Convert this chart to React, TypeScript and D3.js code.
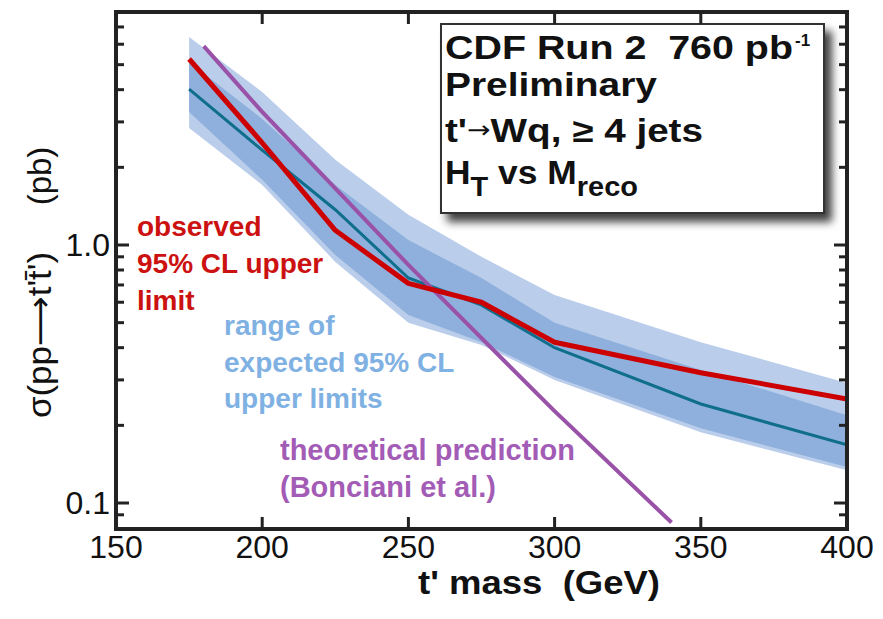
import React from "react";
import * as d3 from "d3";

// t' mass points (GeV) and cross-section limits (pb)
const masses = [175, 200, 225, 250, 275, 300, 350, 400];
const observed = [5.26, 2.49, 1.14, 0.71, 0.6, 0.42, 0.32, 0.253];
const expected = [4.02, 2.33, 1.37, 0.745, 0.585, 0.4, 0.242, 0.168];
const oneSigmaUp = [5.12, 3.08, 1.71, 1.045, 0.745, 0.5, 0.328, 0.219];
const oneSigmaDown = [3.28, 1.79, 0.915, 0.535, 0.42, 0.308, 0.195, 0.138];
const twoSigmaUp = [6.4, 3.92, 2.14, 1.31, 0.9, 0.64, 0.42, 0.292];
const twoSigmaDown = [2.84, 1.71, 0.86, 0.5, 0.41, 0.3, 0.188, 0.134];

// theoretical prediction (Bonciani et al.)
const theoryMasses = [180, 200, 250, 300, 340];
const theory = [5.9, 3.28, 0.837, 0.227, 0.084];

const xTicks = [150, 200, 250, 300, 350, 400];
const yLabels = [0.1, 1.0];

const W = 883;
const H = 619;
const left = 116;
const right = 847;
const top = 12;
const bottom = 529;

const FONT = "'Liberation Sans', Arial, Helvetica, sans-serif";
const ARROW_FONT = "'DejaVu Sans', sans-serif";

const App = () => {
  const x = d3.scaleLinear().domain([150, 400]).range([left, right]);
  const y = d3.scaleLog().domain([0.0793, 8.0]).range([bottom, top]);

  const band = (lo: number[], hi: number[]) =>
    d3
      .area<number>()
      .x((d, i) => x(masses[i]))
      .y0((d, i) => y(lo[i]))
      .y1((d, i) => y(hi[i]))(masses) || "";

  const line = (vals: number[], xs: number[]) =>
    d3
      .line<number>()
      .x((d, i) => x(xs[i]))
      .y((d) => y(d))(vals) || "";

  const yTicks = y.ticks().filter((t) => y(t) > top + 3 && y(t) < bottom - 3);
  const isMajor = (t: number) => Math.abs(Math.log10(t) - Math.round(Math.log10(t))) < 1e-6;

  return (
    <div style={{ position: "absolute", left: 0, top: 0 }}>
      <svg width={W} height={H} style={{ display: "block", background: "#fff" }}>
        <defs>
          <clipPath id="plot">
            <rect x={left} y={top} width={right - left} height={bottom - top} />
          </clipPath>
          <filter id="shadow" x="-10%" y="-10%" width="130%" height="140%">
            <feDropShadow dx="7" dy="8" stdDeviation="4" floodColor="#000" floodOpacity="0.75" />
          </filter>
        </defs>

        <g clipPath="url(#plot)">
          <path d={band(twoSigmaDown, twoSigmaUp)} fill="#bacdeb" />
          <path d={band(oneSigmaDown, oneSigmaUp)} fill="#8fb0dc" />
          <path d={line(expected, masses)} fill="none" stroke="#0f6e8c" strokeWidth={3} />
          <path d={line(theory, theoryMasses)} fill="none" stroke="#9a52a8" strokeWidth={4} />
          <path d={line(observed, masses)} fill="none" stroke="#cc0000" strokeWidth={5} strokeLinejoin="round" />
        </g>

        {/* annotations */}
        <g fontFamily={FONT} fontWeight="bold" fontSize={28}>
          <g fill="#cc1111">
            <text x={137} y={236}>observed</text>
            <text x={137} y={273}>95% CL upper</text>
            <text x={137} y={310}>limit</text>
          </g>
          <g fill="#7fb1e3">
            <text x={224} y={335}>range of</text>
            <text x={224} y={372}>expected 95% CL</text>
            <text x={224} y={408}>upper limits</text>
          </g>
          <g fill="#a35cb6" fontSize={29}>
            <text x={280} y={460}>theoretical prediction</text>
            <text x={280} y={497}>(Bonciani et al.)</text>
          </g>
        </g>

        {/* legend box */}
        <rect x={441} y={24} width={383} height={189} fill="#fff" stroke="#333" strokeWidth={2} filter="url(#shadow)" />
        <g fontFamily={FONT} fontWeight="bold" fill="#111" fontSize={33}>
          <text x={445} y={59} textLength={348} lengthAdjust="spacingAndGlyphs">{"CDF Run 2\u00a0\u00a0760 pb"}</text>
          <text x={795} y={46} fontSize={17}>-1</text>
          <text x={445} y={96} textLength={212} lengthAdjust="spacingAndGlyphs">Preliminary</text>
          <text x={445} y={142} textLength={258} lengthAdjust="spacingAndGlyphs">
            t'<tspan fontFamily={ARROW_FONT} fontWeight="normal" fontSize={24} dy={-4}>→</tspan>
            <tspan dy={4}>Wq, ≥ 4 jets</tspan>
          </text>
          <text x={445} y={184} textLength={193} lengthAdjust="spacingAndGlyphs">
            H<tspan fontSize={27} dy={12}>T</tspan>
            <tspan dy={-12}> vs M</tspan>
            <tspan fontSize={27} dy={12}>reco</tspan>
          </text>
        </g>

        {/* frame */}
        <rect x={left} y={top} width={right - left} height={bottom - top} fill="none" stroke="#222" strokeWidth={4} />
        <g stroke="#222" strokeWidth={3}>
          {xTicks.slice(1, -1).map((t) => (
            <g key={"x" + t}>
              <line x1={x(t)} x2={x(t)} y1={bottom} y2={bottom - 12} />
              <line x1={x(t)} x2={x(t)} y1={top} y2={top + 12} />
            </g>
          ))}
          {yTicks.map((t) => {
            const len = isMajor(t) ? 13 : 8;
            return (
              <g key={"y" + t}>
                <line x1={left} x2={left + len} y1={y(t)} y2={y(t)} />
                <line x1={right} x2={right - len} y1={y(t)} y2={y(t)} />
              </g>
            );
          })}
        </g>

        {/* tick labels */}
        <g fontFamily={FONT} fontSize={32} fill="#111">
          {xTicks.map((t) => (
            <text key={"xl" + t} x={x(t)} y={558} textAnchor="middle">
              {t}
            </text>
          ))}
          {yLabels.map((t) => (
            <text key={"yl" + t} x={110} y={y(t)} textAnchor="end" dominantBaseline="central">
              {t.toFixed(1)}
            </text>
          ))}
        </g>

        {/* axis titles */}
        <text x={539} y={594} textAnchor="middle" fontFamily={FONT} fontWeight="bold" fontSize={33} fill="#111" textLength={242} lengthAdjust="spacingAndGlyphs">
          {"t' mass\u00a0\u00a0(GeV)"}
        </text>
        <g fontFamily={FONT} fontSize={33} fill="#111">
          <text transform="translate(51,335) rotate(-90)" textAnchor="middle" textLength={166} lengthAdjust="spacingAndGlyphs">
            σ(pp<tspan fontFamily={ARROW_FONT}>⟶</tspan>t't̄')
          </text>
          <text transform="translate(51,176) rotate(-90)" textAnchor="middle">
            (pb)
          </text>
        </g>
      </svg>
    </div>
  );
};

export default App;
